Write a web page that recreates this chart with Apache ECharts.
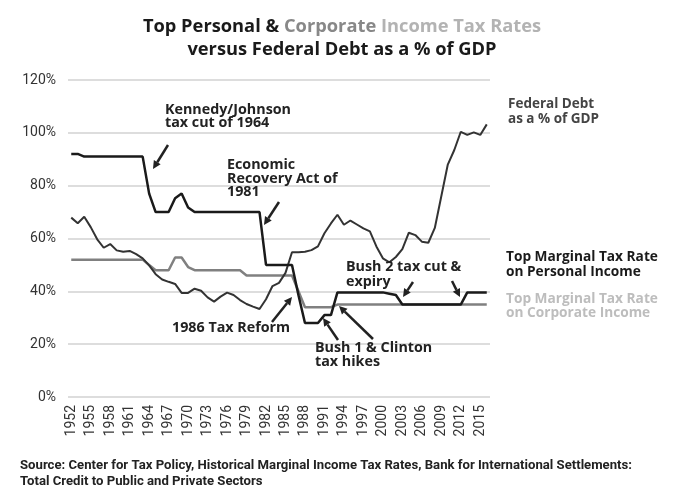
<!DOCTYPE html>
<html>
<head>
<meta charset="utf-8">
<script src="https://cdn.jsdelivr.net/npm/echarts@6/dist/echarts.min.js"></script>
<style>
html,body{margin:0;padding:0;background:#fff;}
#chart{width:677px;height:500px;}
</style>
</head>
<body>
<div id="chart"></div>
<script>
// ---- data ----
const years = [];
for (let y = 1952; y <= 2016; y++) years.push(String(y));

const personalRate = [
  92, 92, 91, 91, 91, 91, 91, 91, 91, 91, 91, 91,
  77, 70, 70, 70, 75.25, 77, 71.75,
  70, 70, 70, 70, 70, 70, 70, 70, 70, 70, 70,
  50, 50, 50, 50, 50, 38.5,
  28, 28, 28, 31, 31,
  39.6, 39.6, 39.6, 39.6, 39.6, 39.6, 39.6, 39.6, 39.1, 38.6,
  35, 35, 35, 35, 35, 35, 35, 35, 35, 35,
  39.6, 39.6, 39.6, 39.6
];

const corporateRate = [
  52, 52, 52, 52, 52, 52, 52, 52, 52, 52, 52, 52,
  50, 48, 48, 48, 52.8, 52.8, 49.2,
  48, 48, 48, 48, 48, 48, 48, 48,
  46, 46, 46, 46, 46, 46, 46, 46,
  40, 34, 34, 34, 34, 34,
  35, 35, 35, 35, 35, 35, 35, 35, 35, 35, 35, 35,
  35, 35, 35, 35, 35, 35, 35, 35, 35, 35, 35, 35
];

const federalDebt = [
  67.9, 65.8, 68.2, 64.3, 59.7, 56.5, 57.9, 55.5, 55.0, 55.3,
  54.1, 52.5, 49.8, 46.5, 44.5, 43.6, 42.8, 39.4, 39.4, 41.0,
  40.2, 37.7, 36.1, 38.0, 39.5, 38.6, 36.7, 35.2, 34.2, 33.3,
  37.0, 42.0, 43.2, 47.0, 54.8, 54.8, 55.0, 55.6, 57.0, 62.0,
  65.7, 69.0, 65.2, 66.8, 65.3, 63.8, 62.7, 57.0, 52.5, 51.0,
  53.0, 56.0, 62.2, 61.3, 58.8, 58.4, 64.0, 76.0, 88.0, 93.5,
  100.4, 99.2, 100.2, 99.2, 103.2
];

const yTicks = [0, 20, 40, 60, 80, 100, 120];

// ---- fonts, sized to the reference text widths ----
const FONT = '"Open Sans", Roboto, sans-serif';
const AXFONT = 'Roboto, "Noto Sans", sans-serif';
const mctx = document.createElement('canvas').getContext('2d');
function textW(font, text) { mctx.font = font; return mctx.measureText(text).width; }
function fit(text, weight, family, target) {
  const w = textW(weight + ' 20px ' + family, text);
  return Math.round(20 * target / w * 10) / 10;
}
const titleSize = fit('versus Federal Debt as a % of GDP', 'bold', FONT, 309);
const noteSize = fit('Kennedy/Johnson', 'bold', FONT, 126);
const sideSize = fit('Top Marginal Tax Rate', 'bold', FONT, 152);
const debtSize = fit('Federal Debt', 'bold', FONT, 86);
const SOURCE1 = 'Source: Center for Tax Policy, Historical Marginal Income Tax Rates, Bank for International Settlements:';
const SOURCE2 = 'Total Credit to Public and Private Sectors';
const srcFont = 'bold 13px ' + AXFONT;
const srcScale = 612 / textW(srcFont, SOURCE1);

// ---- chart ----
const chart = echarts.init(document.getElementById('chart'), null, {renderer: 'canvas'});
const DARK = '#222';

function arrow(x1, y1, x2, y2) {
  const ang = Math.atan2(y2 - y1, x2 - x1);
  const L = 8, W = 4;
  const bx = x2 - L * Math.cos(ang), by = y2 - L * Math.sin(ang);
  const px = -Math.sin(ang) * W, py = Math.cos(ang) * W;
  return [
    {type: 'line', shape: {x1: x1, y1: y1, x2: bx, y2: by}, style: {stroke: DARK, lineWidth: 2.5}, z: 100},
    {type: 'polygon', shape: {points: [[x2, y2], [bx + px, by + py], [bx - px, by - py]]}, style: {fill: DARK}, z: 100}
  ];
}

// text block whose first line is centred on yFirst
function label(text, x, yFirst, size, color, lh, weight) {
  return {
    type: 'text', x: x, y: yFirst - lh / 2, z: 100,
    style: {
      text: text, fill: color,
      font: (weight || 'bold') + ' ' + size + 'px ' + FONT,
      lineHeight: lh, textVerticalAlign: 'top'
    }
  };
}

const graphics = [
  {
    type: 'text', x: 342, y: 27, z: 100,
    style: {
      text: '{a|Top Personal & }{b|Corporate}{c| Income Tax Rates}',
      textAlign: 'center', textVerticalAlign: 'middle',
      rich: {
        a: {fill: '#1a1a1a', font: 'bold ' + titleSize + 'px ' + FONT},
        b: {fill: '#888888', font: 'bold ' + titleSize + 'px ' + FONT},
        c: {fill: '#b3b3b3', font: 'bold ' + titleSize + 'px ' + FONT}
      }
    }
  },
  {
    type: 'text', x: 342, y: 50, z: 100,
    style: {text: 'versus Federal Debt as a % of GDP', textAlign: 'center', textVerticalAlign: 'middle',
      fill: '#1a1a1a', font: 'bold ' + titleSize + 'px ' + FONT}
  },
  label('Kennedy/Johnson\ntax cut of 1964', 165, 110, noteSize, DARK, 13),
  label('Economic\nRecovery Act of\n1981', 227, 165, noteSize, DARK, 13.6),
  label('1986 Tax Reform', 172, 327.7, noteSize, DARK, 14),
  label('Bush 1 & Clinton\ntax hikes', 315, 348.3, noteSize, DARK, 14),
  label('Bush 2 tax cut &\nexpiry', 346, 267.3, noteSize, DARK, 14.4),
  label('Federal Debt\nas a % of GDP', 508, 104.3, debtSize, '#444444', 14.7),
  label('Top Marginal Tax Rate\non Personal Income', 506, 257.3, sideSize, '#1a1a1a', 14.4),
  label('Top Marginal Tax Rate\non Corporate Income', 506, 299.3, sideSize, '#bdbdbd', 13.4),
  {
    type: 'text', x: 20, y: 458, z: 100, scaleX: srcScale,
    style: {
      text: SOURCE1 + '\n' + SOURCE2,
      fill: '#222', font: srcFont,
      lineHeight: 16, textVerticalAlign: 'top'
    }
  }
].concat(
  arrow(168, 145, 153, 169),
  arrow(279, 202, 264, 225),
  arrow(272, 322, 292, 297),
  arrow(338, 340, 323, 318),
  arrow(373, 339, 339, 306),
  arrow(413, 282, 403, 297),
  arrow(452, 281, 460, 297)
);

const option = {
  animation: false,
  backgroundColor: '#fff',
  grid: {left: 68, right: 187, top: 80, bottom: 103},
  xAxis: {
    type: 'category',
    data: years,
    boundaryGap: true,
    axisLine: {show: false},
    axisTick: {show: false},
    axisLabel: {interval: 2, rotate: 90, margin: 8, color: '#333', fontSize: 14, fontFamily: AXFONT}
  },
  yAxis: {
    type: 'value',
    min: yTicks[0], max: yTicks[yTicks.length - 1], interval: 20,
    axisLine: {show: false},
    axisTick: {show: false},
    axisLabel: {formatter: '{value}%', margin: 12, color: '#333', fontSize: 14, fontFamily: AXFONT},
    splitLine: {lineStyle: {color: '#d2d2d2', width: 1.5}}
  },
  series: [
    {name: 'Top Marginal Tax Rate on Corporate Income', type: 'line', data: corporateRate,
      symbol: 'none', lineStyle: {color: '#808080', width: 2.5}, z: 2},
    {name: 'Federal Debt as a % of GDP', type: 'line', data: federalDebt,
      symbol: 'none', lineStyle: {color: '#333333', width: 2}, z: 3},
    {name: 'Top Marginal Tax Rate on Personal Income', type: 'line', data: personalRate,
      symbol: 'none', lineStyle: {color: '#1a1a1a', width: 2.5}, z: 4}
  ],
  graphic: graphics
};
chart.setOption(option);
</script>
</body>
</html>
